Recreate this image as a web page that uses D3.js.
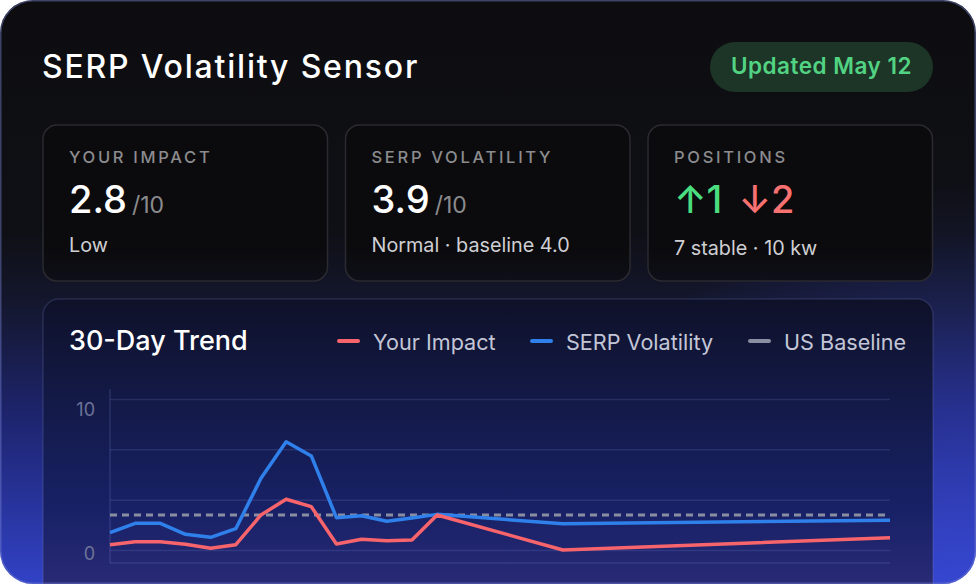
<!DOCTYPE html>
<html lang="en">
<head>
<meta charset="UTF-8">
<title>SERP Volatility Sensor</title>
<script src="https://d3js.org/d3.v7.min.js"></script>
<style>
  html, body { margin: 0; padding: 0; background: #fff; }
  svg { display: block; font-family: Inter, "Noto Sans", sans-serif; }
  .grid line { stroke: rgba(140,155,230,0.16); stroke-width: 1.5; }
  .grid path { display: none; }
  .ylab path, .ylab line { display: none; }
  .ylab text { fill: #6e7498; font-size: 18px; font-family: Inter, sans-serif; }
</style>
</head>
<body>
<svg width="976" height="584"></svg>

<script>
    // 30-day trend (day index from start of window)
    const days       = [0, 1, 2, 3, 4, 5, 6, 7, 8, 9, 10, 11, 12, 13, 18, 31];
    const yourImpact = [0.35, 0.55, 0.55, 0.38, 0.11, 0.35, 2.32, 3.36, 2.87, 0.40, 0.71, 0.62, 0.66, 2.32, 0.0, 0.81];
    const serpVol    = [1.15, 1.77, 1.77, 1.04, 0.84, 1.41, 4.75, 7.17, 6.23, 2.14, 2.27, 1.90, 2.12, 2.36, 1.74, 1.97];
    const usBaseline = 2.32;

    const gridValues = [0, 10 / 3, 20 / 3, 10];
    const tickLabels = [0, 10];

    const legendNames  = ["Your Impact", "SERP Volatility", "US Baseline"];
    const legendColors = ["#f8646c", "#2f80ea", "#8a8ea2"];

    const cardLabels = ["YOUR IMPACT", "SERP VOLATILITY", "POSITIONS"];
    const cardValues = ["2.8", "3.9", null];
    const cardNotes  = ["Low", "Normal · baseline 4.0", "7 stable · 10 kw"];
    const posUp = 1, posDown = 2;

    const svg = d3.select("svg");
    const defs = svg.append("defs");

    function linGrad(id, y1, y2, stops) {
        const g = defs.append("linearGradient").attr("id", id)
            .attr("gradientUnits", "userSpaceOnUse")
            .attr("x1", 0).attr("x2", 0).attr("y1", y1).attr("y2", y2);
        stops.forEach(s => g.append("stop").attr("offset", s[0]).attr("stop-color", s[1]));
    }

    linGrad("bg", 0, 584, [[0, "#0d0d10"], [0.4, "#0f1016"], [0.52, "#14172e"], [0.72, "#1e2570"], [1, "#3142c6"]]);
    linGrad("chartbg", 299, 600, [[0, "#0f1129"], [0.35, "#131a48"], [0.7, "#182166"], [1, "#2c2c78"]]);
    linGrad("cardbg", 125, 281, [[0, "#0b0b0d"], [0.8, "#0b0b0e"], [1, "#0e0f18"]]);

    const glow = defs.append("radialGradient").attr("id", "glow")
        .attr("gradientUnits", "userSpaceOnUse")
        .attr("cx", 960).attr("cy", 560).attr("r", 380);
    glow.append("stop").attr("offset", 0).attr("stop-color", "#3a4ad8").attr("stop-opacity", 0.55);
    glow.append("stop").attr("offset", 1).attr("stop-color", "#3a4ad8").attr("stop-opacity", 0);

    defs.append("clipPath").attr("id", "outer")
        .append("rect").attr("width", 976).attr("height", 584).attr("rx", 33);

    const root = svg.append("g").attr("clip-path", "url(#outer)");
    root.append("rect").attr("width", 976).attr("height", 584).attr("fill", "url(#bg)");
    root.append("rect").attr("width", 976).attr("height", 584).attr("fill", "url(#glow)");

    // header
    root.append("text")
        .attr("x", 42).attr("y", 78)
        .attr("fill", "#fff").attr("font-size", 32).attr("font-weight", 500)
        .attr("letter-spacing", 1.8)
        .text("SERP Volatility Sensor");

    root.append("rect")
        .attr("x", 710).attr("y", 42).attr("width", 223).attr("height", 50).attr("rx", 25)
        .attr("fill", "#1d3526");
    root.append("text")
        .attr("x", 821.5).attr("y", 74).attr("text-anchor", "middle")
        .attr("fill", "#52d383").attr("font-size", 22.5).attr("font-weight", 600)
        .attr("letter-spacing", 0.5)
        .text("Updated May 12");

    // stat cards
    cardLabels.forEach((label, i) => {
        const x0 = 43 + i * 302.5;
        const c = root.append("g");
        c.append("rect")
            .attr("x", x0).attr("y", 125).attr("width", 284.5).attr("height", 156).attr("rx", 14)
            .attr("fill", "url(#cardbg)").attr("stroke", "#2a2a30").attr("stroke-width", 1.5);
        c.append("text")
            .attr("x", x0 + 26).attr("y", 163)
            .attr("fill", "#8c8c8f").attr("font-size", 16.5).attr("font-weight", 500)
            .attr("letter-spacing", 2.7)
            .text(label);
        const v = c.append("text").attr("x", x0 + 26).attr("y", 213)
            .attr("font-size", 38).attr("font-weight", 500);
        if (cardValues[i] !== null) {
            v.append("tspan").attr("fill", "#fff").text(cardValues[i]);
            v.append("tspan").attr("dx", 5).attr("fill", "#8b8b8e")
                .attr("font-size", 23).attr("font-weight", 400).text("/10");
        } else {
            v.append("tspan").attr("fill", "#4ade80").text("↑" + posUp);
            v.append("tspan").attr("dx", 16).attr("fill", "#f87171").text("↓" + posDown);
        }
        c.append("text")
            .attr("x", x0 + 26).attr("y", cardValues[i] === null ? 255 : 252)
            .attr("fill", "#cfcfd3").attr("font-size", 19.8)
            .text(cardNotes[i]);
    });

    // chart card
    root.append("rect")
        .attr("x", 43).attr("y", 299).attr("width", 890).attr("height", 320).attr("rx", 16)
        .attr("fill", "url(#chartbg)").attr("stroke", "rgba(130,140,210,0.2)").attr("stroke-width", 1.5);

    root.append("text")
        .attr("x", 69).attr("y", 350)
        .attr("fill", "#fff").attr("font-size", 27).attr("font-weight", 500)
        .text("30-Day Trend");

    const legendX = [337, 530, 748];
    const legend = root.append("g").selectAll("g")
        .data(legendNames).join("g")
        .attr("transform", (d, i) => `translate(${legendX[i]},0)`);
    legend.append("line")
        .attr("x1", 2).attr("x2", 21).attr("y1", 341).attr("y2", 341)
        .attr("stroke", (d, i) => legendColors[i]).attr("stroke-width", 4)
        .attr("stroke-linecap", "round");
    legend.append("text")
        .attr("x", 36).attr("y", 350)
        .attr("fill", "#c3c6d6").attr("font-size", 21.6)
        .text(d => d);

    // plot
    const x = d3.scaleLinear().domain([0, 31]).range([110, 890]);
    const y = d3.scaleLinear().domain([0, 10]).range([550, 399]);
    const yLab = d3.scaleLinear().domain([0, 10]).range([554, 410]);

    root.append("g").attr("class", "grid")
        .attr("transform", "translate(110,0)")
        .call(d3.axisLeft(y).tickValues(gridValues).tickSize(-780).tickFormat(""));

    root.append("line")
        .attr("x1", 110).attr("x2", 110).attr("y1", 389).attr("y2", 563)
        .attr("stroke", "rgba(140,155,230,0.18)").attr("stroke-width", 1.5);
    root.append("line")
        .attr("x1", 110).attr("x2", 890).attr("y1", 563).attr("y2", 563)
        .attr("stroke", "rgba(140,155,230,0.18)").attr("stroke-width", 1.5);

    root.append("g").attr("class", "ylab")
        .attr("transform", "translate(103,0)")
        .call(d3.axisLeft(yLab).tickValues(tickLabels).tickSize(0).tickPadding(8).tickFormat(d3.format("d")));

    root.append("line")
        .attr("x1", x(0)).attr("x2", x(31))
        .attr("y1", y(usBaseline)).attr("y2", y(usBaseline))
        .attr("stroke", legendColors[2]).attr("stroke-width", 3)
        .attr("stroke-dasharray", "7 5");

    const line = d3.line().x(d => x(d[0])).y(d => y(d[1]));

    root.append("path")
        .datum(days.map((d, i) => [d, serpVol[i]]))
        .attr("d", line)
        .attr("fill", "none").attr("stroke", legendColors[1]).attr("stroke-width", 3.5)
        .attr("stroke-linejoin", "round");

    root.append("path")
        .datum(days.map((d, i) => [d, yourImpact[i]]))
        .attr("d", line)
        .attr("fill", "none").attr("stroke", legendColors[0]).attr("stroke-width", 3.5)
        .attr("stroke-linejoin", "round");

    // outer border
    svg.append("rect")
        .attr("x", 0.75).attr("y", 0.75).attr("width", 974.5).attr("height", 582.5).attr("rx", 32.5)
        .attr("fill", "none").attr("stroke", "rgba(120,130,210,0.45)").attr("stroke-width", 1.5);
</script>
</body>
</html>
